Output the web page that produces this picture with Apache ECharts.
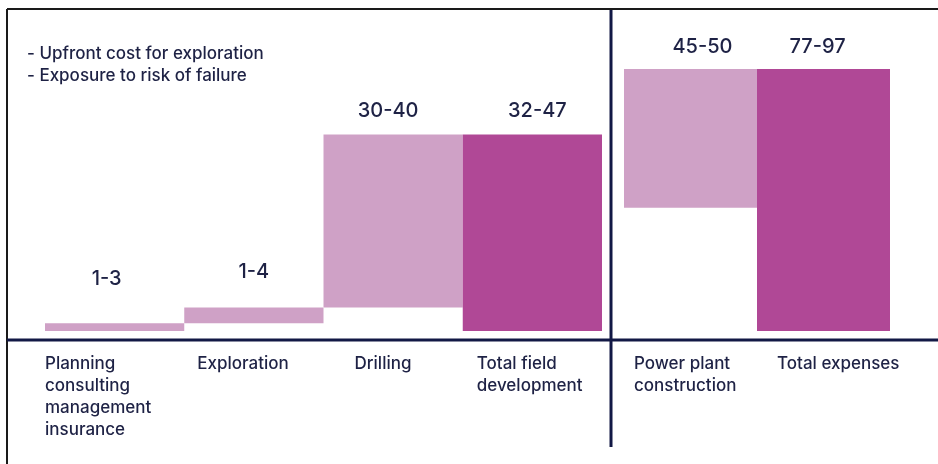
<!DOCTYPE html>
<html>
<head>
<meta charset="utf-8">
<script src="https://cdn.jsdelivr.net/npm/echarts@6/dist/echarts.min.js"></script>
<style>
html,body{margin:0;padding:0;background:#fff;}
#chart{width:938px;height:464px;}
</style>
</head>
<body>
<div id="chart"></div>
<script>
// ---- data ----
const categoriesLeft = ['Planning\nconsulting\nmanagement\ninsurance', 'Exploration', 'Drilling', 'Total field\ndevelopment'];
const categoriesRight = ['Power plant\nconstruction', 'Total expenses'];
const lowLeft = [0, 3, 9, 0];
const highLeft = [3, 9, 75, 75];
const lowRight = [47, 0];
const highRight = [100, 100];
const rangeLeft = ['1-3', '1-4', '30-40', '32-47'];
const rangeRight = ['45-50', '77-97'];
const isTotalLeft = [false, false, false, true];
const isTotalRight = [false, true];
const notes = ['- Upfront cost for exploration', '- Exposure to risk of failure'];

// ---- styles ----
const FONT = 'Inter, "Noto Sans", sans-serif';
const NAVY = '#1e2245';
const LINE = '#121845';
const LIGHT = '#cfa1c6';
const DARK = '#b04896';

const labelDistLeft = [34, 25, 14, 14];
const labelDxLeft = [-8, 0, -5, 5];
const labelDistRight = [12, 12];
const labelDxRight = [12, -6];
const catPadLeft = [0, 13, 31, 14];
const catPadRight = [10, 20];

function valueData(low, high, ranges, totals, dist, dx) {
  return high.map((h, i) => ({
    value: h - low[i],
    itemStyle: { color: totals[i] ? DARK : LIGHT },
    label: { formatter: ranges[i], distance: dist[i], offset: [dx[i], 0] }
  }));
}

function labelAxis(gridIndex, n, names, pads) {
  const rich = {};
  pads.forEach((p, i) => {
    rich['c' + i] = { fontFamily: FONT, fontSize: 17, fontWeight: 500, lineHeight: 22, color: NAVY, padding: [0, 0, 0, p] };
  });
  return {
    type: 'value', gridIndex, min: 0, max: n, interval: 1,
    position: 'bottom',
    axisLine: { show: false }, axisTick: { show: false }, splitLine: { show: false },
    axisLabel: {
      show: true, showMinLabel: true, showMaxLabel: false, align: 'left', verticalAlign: 'top',
      margin: 22,
      formatter: (v) => (v < n ? names[v].split('\n').map(t => `{c${v}|${t}}`).join('\n') : ''),
      rich
    }
  };
}

const catAxis = (gridIndex, data) => ({
  type: 'category', gridIndex, data,
  axisLine: { show: false }, axisTick: { show: false }, axisLabel: { show: false }, splitLine: { show: false }
});

const valLabel = { show: true, position: 'top', fontFamily: FONT, fontSize: 20, fontWeight: 500, color: NAVY };

const option = {
  animation: false,
  backgroundColor: '#fff',
  title: {
    text: notes.join('\n'), left: 27, top: 43, padding: 0,
    textStyle: { fontFamily: FONT, fontSize: 17, lineHeight: 22, fontWeight: 500, color: NAVY }
  },
  grid: [
    { left: 45, right: 336, top: 69, bottom: 133 },
    { left: 624, right: 48, top: 69, bottom: 133 }
  ],
  xAxis: [
    catAxis(0, categoriesLeft),
    catAxis(1, categoriesRight),
    labelAxis(0, categoriesLeft.length, categoriesLeft, catPadLeft),
    labelAxis(1, categoriesRight.length, categoriesRight, catPadRight)
  ],
  yAxis: [
    { type: 'value', gridIndex: 0, min: 0, max: 100, show: false },
    { type: 'value', gridIndex: 1, min: 0, max: 100, show: false }
  ],
  series: [
    { type: 'bar', xAxisIndex: 0, yAxisIndex: 0, stack: 'L', barCategoryGap: '0%', data: lowLeft,
      itemStyle: { color: 'rgba(0,0,0,0)' }, silent: true },
    { type: 'bar', xAxisIndex: 0, yAxisIndex: 0, stack: 'L', barCategoryGap: '0%',
      data: valueData(lowLeft, highLeft, rangeLeft, isTotalLeft, labelDistLeft, labelDxLeft), label: valLabel },
    { type: 'bar', xAxisIndex: 1, yAxisIndex: 1, stack: 'R', barCategoryGap: '0%', data: lowRight,
      itemStyle: { color: 'rgba(0,0,0,0)' }, silent: true },
    { type: 'bar', xAxisIndex: 1, yAxisIndex: 1, stack: 'R', barCategoryGap: '0%',
      data: valueData(lowRight, highRight, rangeRight, isTotalRight, labelDistRight, labelDxRight), label: valLabel }
  ],
  graphic: [
    { type: 'line', shape: { x1: 7, y1: 9, x2: 938, y2: 9 }, style: { stroke: '#1a1a1a', lineWidth: 2 } },
    { type: 'line', shape: { x1: 7, y1: 9, x2: 7, y2: 464 }, style: { stroke: '#1a1a1a', lineWidth: 2 } },
    { type: 'line', shape: { x1: 7, y1: 340, x2: 938, y2: 340 }, style: { stroke: LINE, lineWidth: 3 } },
    { type: 'line', shape: { x1: 611, y1: 10, x2: 611, y2: 447 }, style: { stroke: LINE, lineWidth: 3 } }
  ]
};

const chart = echarts.init(document.getElementById('chart'), null, { renderer: 'canvas' });
chart.setOption(option);
</script>
</body>
</html>
